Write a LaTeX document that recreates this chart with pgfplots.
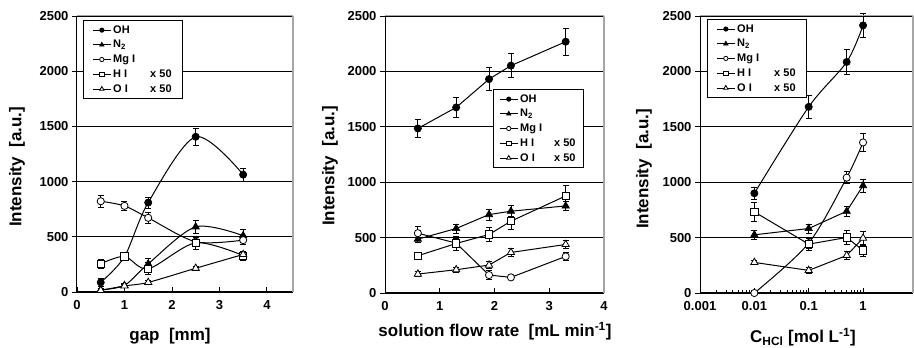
\documentclass[border=0pt]{standalone}
\usepackage{fontspec}
\setmainfont{Liberation Sans}
\usepackage{pgfplots}
\pgfplotsset{compat=1.18}

\pgfplotsset{
  ser/.style={black, line width=1pt, error bars/y dir=both, error bars/y explicit,
    error bars/error bar style={line width=0.8pt, solid},
    error bars/error mark options={rotate=90, mark size=3pt, line width=0.8pt}},
  pOH/.style={ser, mark=*, mark size=3.6pt, mark options={solid, fill=black, line width=0.7pt}},
  pN/.style={ser, mark=triangle*, mark size=4.2pt, mark options={solid, fill=black, line width=0.7pt}},
  pMg/.style={ser, mark=*, mark size=3.6pt, mark options={solid, fill=white, line width=0.8pt}},
  pH/.style={ser, mark=square*, mark size=3.6pt, mark options={solid, fill=white, line width=0.8pt}},
  pO/.style={ser, mark=triangle*, mark size=4.2pt, mark options={solid, fill=white, line width=0.8pt}},
  base/.style={scale only axis, anchor=south west, ymin=0, ymax=2500,
    ytick={0,500,1000,1500,2000,2500}, axis lines*=left, ymajorgrids,
    major grid style={black, line width=0.8pt}, axis line style={black, line width=1pt},
    clip=false, ytick align=outside, xtick align=inside, major tick length=5pt, minor tick length=3pt,
    tick style={black, line width=0.8pt},
    ticklabel style={font=\bfseries\fontsize{13}{15}\selectfont},
    xticklabel style={yshift=-5pt},
    /pgf/number format/assume math mode=true, /pgf/number format/1000 sep={},
    legend cell align=left,
    legend style={draw=black, line width=0.8pt, font=\bfseries\fontsize{11}{12.5}\selectfont, row sep=1.6pt, inner xsep=9pt, inner ysep=3pt},
    legend image code/.code={\draw[mark repeat=2, mark phase=2, #1, line width=0.8pt, every mark/.append style={scale=0.6}] plot coordinates {(0pt,0pt) (9pt,0pt) (18pt,0pt)};}},
}
\newcommand{\lab}{\bfseries\fontsize{17}{20}\selectfont}
\newcommand{\legs}{\legend{OH, N\textsubscript{2}, Mg I, \makebox[37pt][l]{H I}x 50, \makebox[37pt][l]{O I}x 50}}

\begin{document}
\begin{tikzpicture}
\useasboundingbox (0,0) rectangle (914pt,348pt);

% ---------- panel 1: gap ----------
\begin{axis}[base, at={(77pt,56pt)}, width=216pt, height=276pt,
  xmin=0, xmax=4.55, xtick={0,1,2,3,4},
  legend style={at={(rel axis cs:0.028,0.985)}, anchor=north west}]
\addplot[pOH, smooth] table[row sep=\\, x=x, y=y, y error=e] {x y e\\ 0.5 87 40\\ 1 320 30\\ 1.5 810 50\\ 2.5 1406 80\\ 3.5 1063 60\\};
\addplot[pN, smooth] table[row sep=\\, x=x, y=y, y error=e] {x y e\\ 0.5 20 10\\ 1 60 15\\ 1.5 255 45\\ 2.5 590 55\\ 3.5 510 55\\};
\addplot[pMg, smooth] table[row sep=\\, x=x, y=y, y error=e] {x y e\\ 0.5 822 55\\ 1 780 45\\ 1.5 672 50\\ 2.5 455 40\\ 3.5 470 40\\};
\addplot[pH, smooth] table[row sep=\\, x=x, y=y, y error=e] {x y e\\ 0.5 256 40\\ 1 322 40\\ 1.5 210 55\\ 2.5 445 55\\ 3.5 330 40\\};
\addplot[pO, smooth] table[row sep=\\, x=x, y=y, y error=e] {x y e\\ 0.5 15 10\\ 1 55 10\\ 1.5 87 15\\ 2.5 215 15\\ 3.5 340 30\\};
\legs
\draw[gray!70, line width=1pt] (rel axis cs:0,1) -- (rel axis cs:1,1);
\draw[gray!70, line width=1.6pt] (rel axis cs:1,1) -- (rel axis cs:1,0);
\end{axis}

% ---------- panel 2: flow rate ----------
\begin{axis}[base, at={(385pt,55pt)}, width=219pt, height=277pt,
  xmin=0, xmax=4, xtick={0,1,2,3,4},
  legend style={at={(rel axis cs:0.493,0.736)}, anchor=north west, inner xsep=6pt}]
\addplot[pOH] table[row sep=\\, x=x, y=y, y error=e] {x y e\\ 0.6 1485 80\\ 1.3 1675 90\\ 1.9 1930 105\\ 2.3 2052 110\\ 3.3 2268 120\\};
\addplot[pN] table[row sep=\\, x=x, y=y, y error=e] {x y e\\ 0.6 486 30\\ 1.3 582 40\\ 1.9 708 50\\ 2.3 738 50\\ 3.3 786 45\\};
\addplot[pMg] table[row sep=\\, x=x, y=y, y error=e] {x y e\\ 0.6 540 60\\ 1.3 450 40\\ 1.9 162 40\\ 2.3 141 20\\ 3.3 330 40\\};
\addplot[pH] table[row sep=\\, x=x, y=y, y error=e] {x y e\\ 0.6 336 30\\ 1.3 447 60\\ 1.9 528 60\\ 2.3 648 75\\ 3.3 876 95\\};
\addplot[pO] table[row sep=\\, x=x, y=y, y error=e] {x y e\\ 0.6 171 20\\ 1.3 210 20\\ 1.9 252 30\\ 2.3 366 40\\ 3.3 438 40\\};
\legend{OH, N\textsubscript{2}, Mg I, \makebox[34pt][l]{H I}x 50, \makebox[34pt][l]{O I}x 50}
\draw[gray!70, line width=1pt] (rel axis cs:0,1) -- (rel axis cs:1,1);
\draw[gray!70, line width=1.6pt] (rel axis cs:1,1) -- (rel axis cs:1,0);
\end{axis}

% ---------- panel 3: HCl ----------
\begin{axis}[base, at={(700pt,55pt)}, width=213pt, height=277pt,
  xmode=log, xmin=0.001, xmax=8.3, xtick={0.001,0.01,0.1,1}, xticklabels={0.001,0.01,0.1,1},
  legend style={at={(rel axis cs:0.033,0.989)}, anchor=north west}]
\addplot[pOH, smooth] table[row sep=\\, x=x, y=y, y error=e] {x y e\\ 0.01 900 55\\ 0.1 1680 100\\ 0.5 2085 115\\ 1 2415 110\\};
\addplot[pN] table[row sep=\\, x=x, y=y, y error=e] {x y e\\ 0.01 525 40\\ 0.1 582 40\\ 0.5 738 45\\ 1 969 60\\};
\addplot[pMg, smooth] table[row sep=\\, x=x, y=y, y error=e] {x y e\\ 0.01 0 0\\ 0.1 450 50\\ 0.5 1041 55\\ 1 1359 85\\};
\addplot[pH] table[row sep=\\, x=x, y=y, y error=e] {x y e\\ 0.01 732 85\\ 0.1 441 55\\ 0.5 501 60\\ 1 384 50\\};
\addplot[pO] table[row sep=\\, x=x, y=y, y error=e] {x y e\\ 0.01 276 20\\ 0.1 204 30\\ 0.5 339 40\\ 1 495 60\\};
\legs
\draw[gray!70, line width=1pt] (rel axis cs:0,1) -- (rel axis cs:1,1);
\draw[gray!70, line width=1.6pt] (rel axis cs:1,1) -- (rel axis cs:1,0);
\end{axis}

% ---------- axis labels ----------
\node[rotate=90, font=\lab] at (17pt,181pt) {Intensity\ \ [a.u.]};
\node[rotate=90, font=\lab] at (330pt,182pt) {Intensity\ \ [a.u.]};
\node[rotate=90, font=\lab] at (644pt,179pt) {Intensity\ \ [a.u.]};
\node[font=\lab] at (170pt,12pt) {gap\ \ [mm]};
\node[font=\lab] at (495pt,17pt) {solution flow rate\ \ [mL min\textsuperscript{-1}]};
\node[font=\lab] at (803pt,11pt) {C\textsubscript{HCl} [mol L\textsuperscript{-1}]};
\end{tikzpicture}
\end{document}
